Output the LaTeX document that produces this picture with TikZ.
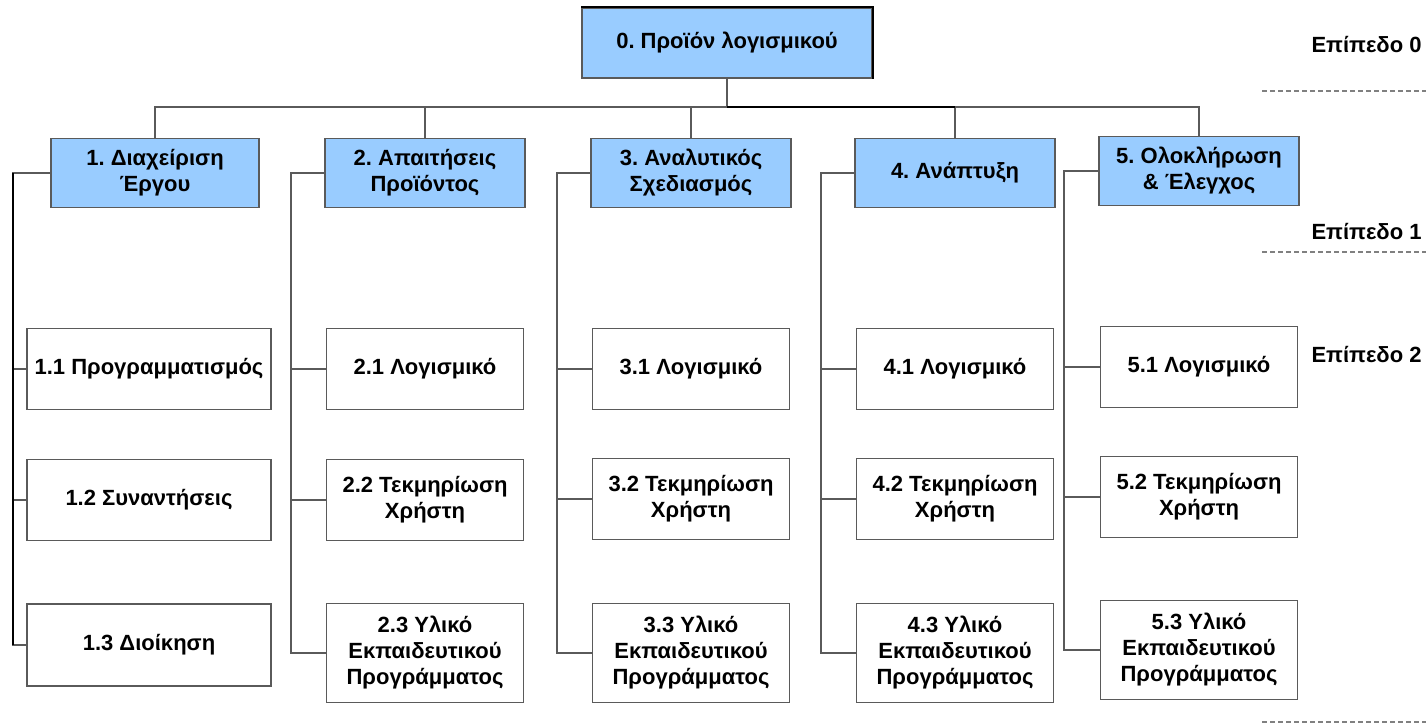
\documentclass[tikz,border=0pt]{standalone}
\usepackage{fontspec}
\setmainfont{Liberation Sans}
\frenchspacing

\definecolor{wbsblue}{HTML}{99CCFF}
\definecolor{wbsline}{HTML}{5A5A5A}

\tikzset{
  wbsfont/.style={font=\fontsize{22}{26}\selectfont\bfseries},
  topbox/.style={draw=wbsline, fill=wbsblue, line width=1.5pt, align=center, wbsfont,
    minimum width=200pt, minimum height=69pt, inner sep=2pt},
  workbox/.style={draw=wbsline, fill=white, line width=1.5pt, align=center, wbsfont,
    minimum width=197pt, minimum height=81pt, inner sep=2pt},
  tallbox/.style={workbox, minimum height=99pt},
  link/.style={draw=wbsline, line width=1.6pt},
  levelline/.style={draw=gray, line width=1.2pt, dash pattern=on 5pt off 3pt},
}

\begin{document}
\begin{tikzpicture}[x=1pt,y=-1pt]
%\draw[help lines] (0,0) grid[step=100] (1426,725);
\path[use as bounding box] (0,0) rectangle (1426,725);

% Level 0
\node[topbox, minimum width=290pt, minimum height=70pt] (root) at (727,43) {0. Προϊόν λογισμικού};
\draw[black, line width=2.2pt] (root.north west) -- (root.north east) -- (root.south east);

% Level 1
\node[topbox, minimum width=208pt] (d1) at (155,173) {1. Διαχείριση\\Έργου};
\node[topbox] (d2) at (425,173) {2. Απαιτήσεις\\Προϊόντος};
\node[topbox] (d3) at (691,173) {3. Αναλυτικός\\Σχεδιασμός};
\node[topbox] (d4) at (955,173) {4. Ανάπτυξη};
\node[topbox] (d5) at (1199,171) {5. Ολοκλήρωση\\\& Έλεγχος};

% Level 2
\node[workbox, minimum width=244pt] (w11) at (149,369) {1.1 Προγραμματισμός};
\node[workbox, minimum width=244pt] (w12) at (149,500) {1.2 Συναντήσεις};
\node[workbox, minimum width=244pt, minimum height=82pt] (w13) at (149,645) {1.3 Διοίκηση};

\node[workbox] (w21) at (425,369) {2.1 Λογισμικό};
\node[workbox] (w22) at (425,500) {2.2 Τεκμηρίωση\\Χρήστη};
\node[tallbox] (w23) at (425,653) {2.3 Υλικό\\Εκπαιδευτικού\\Προγράμματος};

\node[workbox] (w31) at (691,369) {3.1 Λογισμικό};
\node[workbox] (w32) at (691,499) {3.2 Τεκμηρίωση\\Χρήστη};
\node[tallbox] (w33) at (691,653) {3.3 Υλικό\\Εκπαιδευτικού\\Προγράμματος};

\node[workbox] (w41) at (955,369) {4.1 Λογισμικό};
\node[workbox] (w42) at (955,499) {4.2 Τεκμηρίωση\\Χρήστη};
\node[tallbox] (w43) at (955,653) {4.3 Υλικό\\Εκπαιδευτικού\\Προγράμματος};

\node[workbox] (w51) at (1199,367) {5.1 Λογισμικό};
\node[workbox] (w52) at (1199,497) {5.2 Τεκμηρίωση\\Χρήστη};
\node[tallbox] (w53) at (1199,650) {5.3 Υλικό\\Εκπαιδευτικού\\Προγράμματος};

% bus and stems
\coordinate (bus) at (0,107);
\draw[link] (root.south) -- (root.south |- bus);
\draw[link] (d1.north) |- (d5.north |- bus) -- (d5.north);
\foreach \d in {d2,d3,d4}
  \draw[link] (\d.north) -- (\d.north |- bus);
\draw[black, line width=1.8pt] (root.south |- bus) -- (d4.north |- bus);

% spines
\coordinate (s1) at (13,0);
\coordinate (s2) at (291,0);
\coordinate (s3) at (557,0);
\coordinate (s4) at (821,0);
\coordinate (s5) at (1064,0);
\foreach \c in {1,...,5}{
  \draw[link] (d\c.west) -- (d\c.west -| s\c) |- (w\c3.west);
  \draw[link] (w\c1.west -| s\c) -- (w\c1.west);
  \draw[link] (w\c2.west -| s\c) -- (w\c2.west);
}
\draw[black, line width=2pt] (d1.west -| s1) -- (w13.west -| s1);

% levels
\node[wbsfont, anchor=west] (lv0) at (1308,45) {Επίπεδο 0};
\node[wbsfont, anchor=west] (lv1) at (1308,232) {Επίπεδο 1};
\node[wbsfont, anchor=west] (lv2) at (1308,355) {Επίπεδο 2};
\draw[levelline] (1262,91) -- (1426,91);
\draw[levelline] (1262,252) -- (1426,252);
\draw[levelline] (1262,722) -- (1426,722);

\end{tikzpicture}
\end{document}
